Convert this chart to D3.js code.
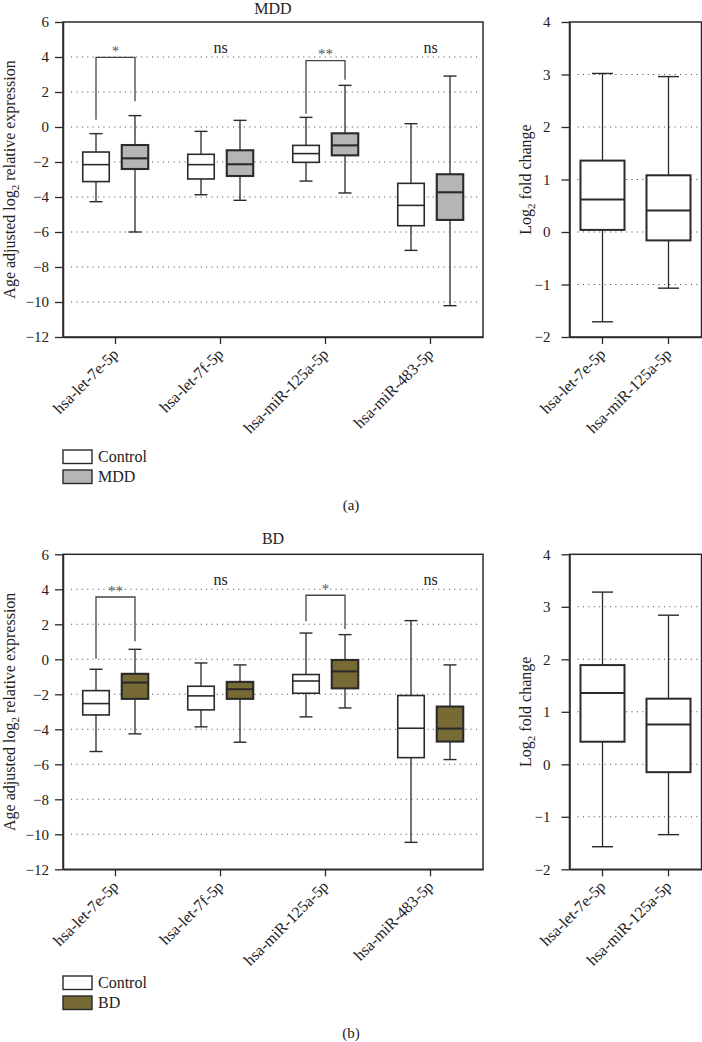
<!DOCTYPE html>
<html><head><meta charset="utf-8">
<script src="https://cdn.jsdelivr.net/npm/d3@7"></script>
<style>
html,body{margin:0;padding:0;background:#fff;}
svg{display:block;font-family:"Liberation Serif","DejaVu Serif","Times New Roman",serif;}
</style></head><body>
<svg id="chart" width="702" height="1042"></svg>
<script>
// ---------- data ----------
const categories = ["hsa-let-7e-5p", "hsa-let-7f-5p", "hsa-miR-125a-5p", "hsa-miR-483-5p"];
const fcCategories = ["hsa-let-7e-5p", "hsa-miR-125a-5p"];
// each box: [whiskerLow, q1, median, q3, whiskerHigh]
const mddControl = [[-4.27,-3.12,-2.15,-1.43,-0.38],[-3.87,-2.97,-2.15,-1.56,-0.25],[-3.09,-2.02,-1.52,-1.05,0.55],[-7.05,-5.64,-4.48,-3.22,0.19]];
const mddCase    = [[-6.00,-2.40,-1.79,-1.03,0.65],[-4.19,-2.80,-2.13,-1.33,0.38],[-3.77,-1.62,-1.05,-0.36,2.38],[-10.21,-5.31,-3.73,-2.70,2.91]];
const mddFold    = [[-1.71,0.04,0.62,1.36,3.02],[-1.07,-0.16,0.41,1.08,2.96]];
const bdControl  = [[-5.27,-3.18,-2.53,-1.79,-0.57],[-3.86,-2.89,-2.09,-1.54,-0.21],[-3.29,-1.94,-1.24,-0.87,1.50],[-10.46,-5.62,-3.94,-2.07,2.21]];
const bdCase     = [[-4.26,-2.26,-1.33,-0.83,0.57],[-4.74,-2.26,-1.71,-1.29,-0.32],[-2.78,-1.66,-0.69,-0.04,1.41],[-5.73,-4.70,-3.96,-2.70,-0.32]];
const bdFold     = [[-1.57,0.43,1.36,1.89,3.28],[-1.34,-0.15,0.76,1.25,2.84]];
const mddSig = ["*", "ns", "**", "ns"];
const bdSig  = ["**", "ns", "*", "ns"];
// brackets: [control end, top, case end] (null = no bracket)
const mddBrackets = [[0.42,3.98,1.47], null, [0.76,3.79,2.70], null];
const bdBrackets  = [[0.03,3.56,1.03], null, [2.17,3.66,1.73], null];
const nsLevel = 4.25;
const leftTicks  = [6,4,2,0,-2,-4,-6,-8,-10,-12];
const rightTicks = [4,3,2,1,0,-1,-2];

// ---------- drawing ----------
const svg = d3.select("#chart");
const INK = "#2a2a2a";
const FONT = '"Liberation Serif","DejaVu Serif","Times New Roman",serif';
const fmt = d3.format("");

function gridLines(g, ticks, y, xa, xb) {
  g.append("g").selectAll("line").data(ticks).join("line")
    .attr("x1", xa).attr("x2", xb).attr("y1", d => y(d)).attr("y2", d => y(d))
    .attr("stroke", "#555").attr("stroke-width", 1.1).attr("stroke-dasharray", "1.1,4.3");
}

function styleAxis(a) {
  a.attr("font-family", FONT);
  a.selectAll("path.domain").attr("stroke", INK).attr("stroke-width", 1.5);
  a.selectAll(".tick line").attr("stroke", INK).attr("stroke-width", 1.3);
  a.selectAll("text").attr("fill", "#222").style("font-family", FONT);
}

function drawBox(g, cx, bw, cap, d, y, fill, sw) {
  const [lo, q1, med, q3, hi] = d;
  g.append("line").attr("x1", cx).attr("x2", cx).attr("y1", y(hi)).attr("y2", y(lo))
    .attr("stroke", INK).attr("stroke-width", 1.3);
  g.append("line").attr("x1", cx - cap/2).attr("x2", cx + cap/2).attr("y1", y(hi)).attr("y2", y(hi))
    .attr("stroke", INK).attr("stroke-width", 1.4);
  g.append("line").attr("x1", cx - cap/2).attr("x2", cx + cap/2).attr("y1", y(lo)).attr("y2", y(lo))
    .attr("stroke", INK).attr("stroke-width", 1.4);
  g.append("rect").attr("x", cx - bw/2).attr("width", bw).attr("y", y(q3)).attr("height", y(q1) - y(q3))
    .attr("fill", fill).attr("stroke", INK).attr("stroke-width", sw);
  g.append("line").attr("x1", cx - bw/2).attr("x2", cx + bw/2).attr("y1", y(med)).attr("y2", y(med))
    .attr("stroke", INK).attr("stroke-width", sw);
}

function yLabel(g, x, cy, pre, post) {
  const t = g.append("text").attr("transform", `translate(${x},${cy}) rotate(-90)`)
    .attr("text-anchor", "middle").attr("font-size", 16).attr("fill", "#222");
  t.append("tspan").text(pre);
  t.append("tspan").attr("font-size", 11).attr("dy", 4).text("2");
  t.append("tspan").attr("dy", -4).text(post);
}

function groupPanel(o) {
  const x0 = 63, x1 = 483, y0 = o.top, y1 = o.top + 315;
  const y = d3.scaleLinear().domain([-12, 6]).range([y1, y0]);
  const x = d3.scaleBand().domain(categories).range([x0, x1]);
  const sub = d3.scalePoint().domain(["Control", o.name]).range([-19.5, 19.5]);
  const g = svg.append("g");
  gridLines(g, leftTicks.filter(t => t > -12 && t < 6), y, x0 + 8, x1 - 4);

  g.append("rect").attr("x", x0).attr("y", y0).attr("width", x1 - x0).attr("height", y1 - y0)
    .attr("fill", "none").attr("stroke", INK).attr("stroke-width", 1.5);
  const ay = g.append("g").attr("transform", `translate(${x0},0)`)
    .call(d3.axisLeft(y).tickValues(leftTicks).tickSize(8).tickPadding(6).tickSizeOuter(0).tickFormat(fmt));
  ay.selectAll("text").attr("font-size", 15);
  styleAxis(ay);
  const ax = g.append("g").attr("transform", `translate(0,${y1})`)
    .call(d3.axisBottom(x).tickSize(7).tickSizeOuter(0));
  ax.selectAll("text").attr("font-size", 16).attr("text-anchor", "end")
    .attr("x", 0).attr("y", 0).attr("dy", 0)
    .attr("transform", "translate(4,18) rotate(-45)");
  styleAxis(ax);

  categories.forEach((c, i) => {
    const cx = x(c) + x.bandwidth() / 2;
    const cc = cx + sub("Control"), cd = cx + sub(o.name);
    drawBox(g, cc, 26.5, 13, o.control[i], y, "#fff", 1.6);
    drawBox(g, cd, 26.5, 13, o.cases[i], y, o.fill, 2.1);
    const b = o.brackets[i];
    if (b) {
      g.append("path").attr("d", `M${cc},${y(b[0])}V${y(b[1])}H${cd}V${y(b[2])}`)
        .attr("fill", "none").attr("stroke", "#444").attr("stroke-width", 1.3);
      g.append("text").attr("x", cx).attr("y", y(b[1]) - 1.5).attr("text-anchor", "middle")
        .attr("font-size", 15).attr("fill", "#555").text(o.sig[i]);
    } else {
      g.append("text").attr("x", cx).attr("y", y(nsLevel)).attr("text-anchor", "middle")
        .attr("font-size", 16).attr("fill", "#222").text(o.sig[i]);
    }
  });

  g.append("text").attr("x", (x0 + x1) / 2).attr("y", o.titleY).attr("text-anchor", "middle")
    .attr("font-size", 16).attr("fill", "#222").text(o.name);
  yLabel(g, 15, (y0 + y1) / 2, "Age adjusted log", " relative expression");

  const leg = [["Control", "#fff"], [o.name, o.fill]];
  leg.forEach((l, k) => {
    g.append("rect").attr("x", 63).attr("y", o.legendY + k * 20).attr("width", 29).attr("height", 13.5)
      .attr("fill", l[1]).attr("stroke", INK).attr("stroke-width", 1.4);
    g.append("text").attr("x", 98).attr("y", o.legendY + k * 20 + 11.8).attr("font-size", 16)
      .attr("fill", "#222").text(l[0]);
  });
  g.append("text").attr("x", 351).attr("y", o.tagY).attr("text-anchor", "middle")
    .attr("font-size", 15).attr("fill", "#222").text(o.tag);
}

function foldPanel(o) {
  const x0 = 569.5, x1 = 701.5, y0 = o.top, y1 = o.top + 315;
  const y = d3.scaleLinear().domain([-2, 4]).range([y1, y0]);
  const x = d3.scaleBand().domain(fcCategories).range([x0, x1]);
  const g = svg.append("g");
  gridLines(g, rightTicks.filter(t => t > -2 && t < 4), y, x0 + 8, x1 - 2);
  g.append("rect").attr("x", x0).attr("y", y0).attr("width", x1 - x0).attr("height", y1 - y0)
    .attr("fill", "none").attr("stroke", INK).attr("stroke-width", 1.5);
  const ay = g.append("g").attr("transform", `translate(${x0},0)`)
    .call(d3.axisLeft(y).tickValues(rightTicks).tickSize(8).tickPadding(11).tickSizeOuter(0).tickFormat(fmt));
  ay.selectAll("text").attr("font-size", 15);
  styleAxis(ay);
  const ax = g.append("g").attr("transform", `translate(0,${y1})`)
    .call(d3.axisBottom(x).tickSize(7).tickSizeOuter(0));
  ax.selectAll("text").attr("font-size", 16).attr("text-anchor", "end")
    .attr("x", 0).attr("y", 0).attr("dy", 0)
    .attr("transform", "translate(4,18) rotate(-45)");
  styleAxis(ax);
  fcCategories.forEach((c, i) => {
    const cx = x(c) + x.bandwidth() / 2;
    drawBox(g, cx, 44, 21, o.data[i], y, "#fff", 2);
  });
  yLabel(g, 531, (y0 + y1) / 2, "Log", " fold change");
}

groupPanel({top: 22, name: "MDD", control: mddControl, cases: mddCase, fill: "#b5b5b5",
  sig: mddSig, brackets: mddBrackets, titleY: 14, legendY: 450, tag: "(a)", tagY: 510});
foldPanel({top: 22, data: mddFold});
groupPanel({top: 554.3, name: "BD", control: bdControl, cases: bdCase, fill: "#786a35",
  sig: bdSig, brackets: bdBrackets, titleY: 543.5, legendY: 976, tag: "(b)", tagY: 1038});
foldPanel({top: 554.3, data: bdFold});
</script>
</body></html>
